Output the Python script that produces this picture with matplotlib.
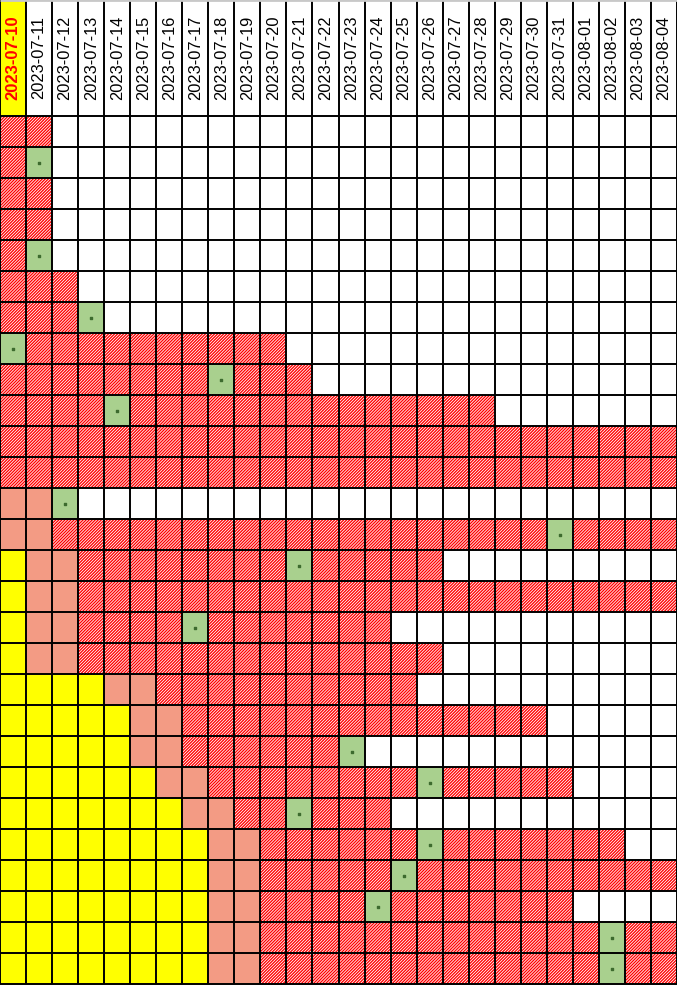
import matplotlib
matplotlib.use("Agg")
import matplotlib.pyplot as plt

# dates across the top
dates = ["2023-07-10", "2023-07-11", "2023-07-12", "2023-07-13", "2023-07-14",
         "2023-07-15", "2023-07-16", "2023-07-17", "2023-07-18", "2023-07-19",
         "2023-07-20", "2023-07-21", "2023-07-22", "2023-07-23", "2023-07-24",
         "2023-07-25", "2023-07-26", "2023-07-27", "2023-07-28", "2023-07-29",
         "2023-07-30", "2023-07-31", "2023-08-01", "2023-08-02", "2023-08-03",
         "2023-08-04"]

# per row: number of yellow cells, then salmon cells, then hatched up to filled_end,
# one green cell (-1 = none), white after filled_end
yellow_n = [0]*14 + [1, 1, 1, 1, 4, 5, 5, 6, 7, 8, 8, 8, 8, 8]
salmon_n = [0]*12 + [2]*16
filled_end = [2, 2, 2, 2, 2, 3, 4, 11, 12, 19, 26, 26, 3, 26,
              17, 26, 15, 17, 16, 21, 14, 22, 15, 24, 26, 22, 26, 26]
green_col = [-1, 1, -1, -1, 1, -1, 3, 0, 8, 4, -1, -1, 2, 21,
             11, -1, 7, -1, -1, -1, 13, 16, 11, 16, 15, 14, 23, 23]

YELLOW = "#ffff00"
SALMON = "#f39b84"
GREEN = "#a9d08e"
RED = "#ff0000"

plt.rcParams["hatch.linewidth"] = 0.95

ncols = len(dates)
nrows = len(filled_end)
hdr = 116 / 31.0  # header height in row units

fig = plt.figure(figsize=(6.77, 9.85), dpi=100)
ax = fig.add_axes([0, 0, 1, 1])
ax.set_xlim(0, ncols)
ax.set_ylim(nrows + 1 / 31.0, -hdr)
ax.axis("off")

for r in range(nrows):
    for c in range(ncols):
        if c < yellow_n[r]:
            ax.barh(r + 0.5, 1, left=c, height=1, color=YELLOW, linewidth=0)
        elif c < yellow_n[r] + salmon_n[r]:
            ax.barh(r + 0.5, 1, left=c, height=1, color=SALMON, linewidth=0)
        elif c == green_col[r]:
            ax.barh(r + 0.5, 1, left=c, height=1, color=GREEN, linewidth=0)
            ax.scatter(c + 0.5, r + 0.5, s=0.6, marker="s", color="#3d6b2e", zorder=3)
        elif c < filled_end[r]:
            ax.barh(r + 0.5, 1, left=c, height=1, facecolor="white",
                    edgecolor=RED, hatch="/" * 11, linewidth=0)

# header
ax.barh(-hdr / 2, 1, left=0, height=hdr, color=YELLOW, linewidth=0)
for i, d in enumerate(dates):
    if i == 0:
        ax.text(i + 0.5, -hdr / 2, d, rotation=90, ha="center", va="center",
                fontsize=12, fontweight="bold", color=RED, family="Liberation Sans")
    else:
        ax.text(i + 0.5, -hdr / 2, d, rotation=90, ha="center", va="center",
                fontsize=11.8, color="black", family="Liberation Sans")

# grid lines
ax.vlines(range(ncols + 1), -hdr, nrows, color="black", linewidth=1.4, zorder=4)
ax.hlines(range(nrows + 1), 0, ncols, color="black", linewidth=1.4, zorder=4)
ax.hlines(-hdr, 0, ncols, color="#c8c8c8", linewidth=2, zorder=4)

fig.savefig("out.png", dpi=100)
